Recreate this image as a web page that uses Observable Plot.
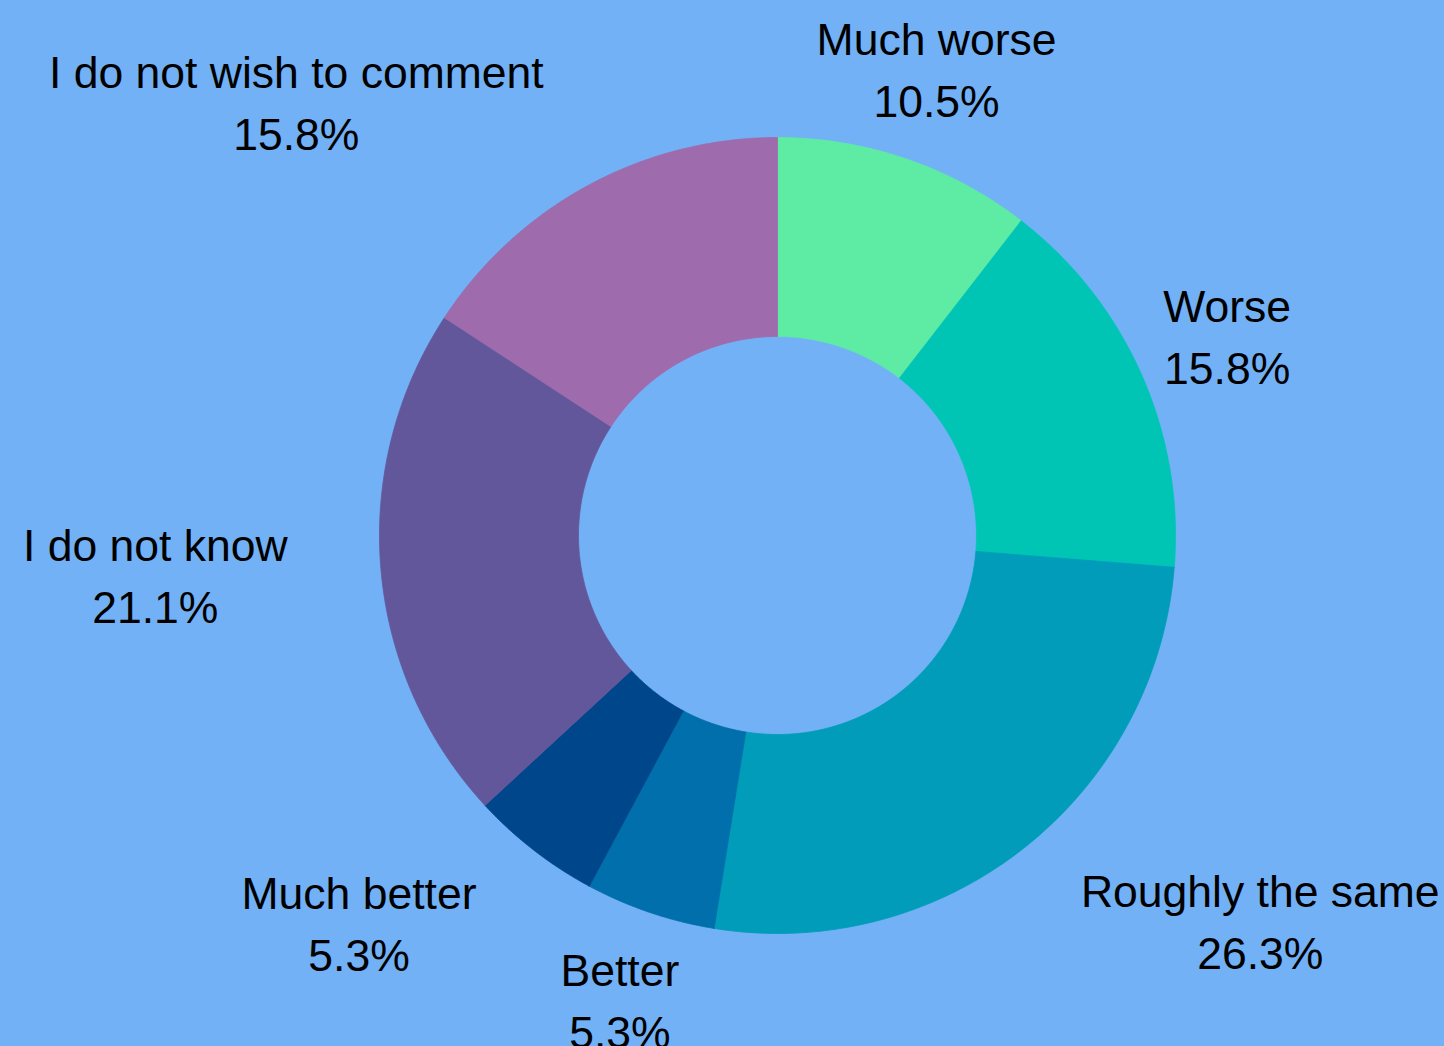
<!DOCTYPE html>
<html>
<head>
<meta charset="utf-8">
<script src="https://cdn.jsdelivr.net/npm/d3@7"></script>
<script src="https://cdn.jsdelivr.net/npm/@observablehq/plot@0.6"></script>
<style>
  html, body { margin: 0; padding: 0; background: #72b1f5; }
  #chart { width: 1444px; height: 1046px; }
</style>
</head>
<body>
<div id="chart"></div>
<script>
// ---- data ----
const categories = ["Much worse", "Worse", "Roughly the same", "Better", "Much better", "I do not know", "I do not wish to comment"];
const percents = [10.5, 15.8, 26.3, 5.3, 5.3, 21.1, 15.8];
const sliceColors = ["#5eeba4", "#00c5b5", "#009cba", "#006fab", "#00468a", "#63579c", "#9e6bac"];
const percentLabels = ["10.5%", "15.8%", "26.3%", "5.3%", "5.3%", "21.1%", "15.8%"];

// ---- layout ----
const W = 1444, H = 1046;
const CX = 777, CY = 535, RPX = 398;      // centre and outer radius in pixels
const INNER = 0.5;                         // inner radius as a fraction of outer
const LABEL_R = 1.235;                     // label distance as a fraction of outer
const FONT = 44.5, LINE_H = 1.39;

const total = d3.sum(percents);
let acc = 0;
const slices = categories.map((c, i) => {
  const a0 = acc / total * 2 * Math.PI;
  acc += percents[i];
  const a1 = acc / total * 2 * Math.PI;
  return {category: c, a0, a1, i};
});

// polygon outline of each ring segment (angle clockwise from north)
const poly = [];
for (const s of slices) {
  const n = Math.max(8, Math.ceil((s.a1 - s.a0) / (Math.PI / 360)));
  const pts = [];
  for (let k = 0; k <= n; k++) {
    const a = s.a0 + (s.a1 - s.a0) * k / n;
    pts.push([Math.sin(a), Math.cos(a)]);
  }
  for (let k = n; k >= 0; k--) {
    const a = s.a0 + (s.a1 - s.a0) * k / n;
    pts.push([INNER * Math.sin(a), INNER * Math.cos(a)]);
  }
  pts.push(pts[0]);
  for (const [x, y] of pts) poly.push({category: s.category, x, y});
}

// labels: centred on the mid angle unless the text box would overlap the ring,
// in which case the box is pushed outward so its near edge sits on that point
const ctx = document.createElement("canvas").getContext("2d");
ctx.font = `${FONT}px "Liberation Sans", Arial, sans-serif`;
const labels = slices.map(s => {
  const m = (s.a0 + s.a1) / 2;
  let x = LABEL_R * Math.sin(m);
  const y = LABEL_R * Math.cos(m);
  const text = `${s.category}\n${percentLabels[s.i]}`;
  const w = Math.max(ctx.measureText(s.category).width, ctx.measureText(percentLabels[s.i]).width);
  const px = x * RPX, py = -y * RPX;
  const hh = (LINE_H * FONT) / 2 + FONT * 0.5;
  const cxp = Math.max(px - w / 2, Math.min(0, px + w / 2));
  const cyp = Math.max(py - hh, Math.min(0, py + hh));
  if (Math.hypot(cxp, cyp) < RPX) x += (x >= 0 ? 1 : -1) * (w / 2) / RPX;
  return {x, y, text};
});

const chart = Plot.plot({
  width: W,
  height: H,
  margin: 0,
  style: {background: "#72b1f5", overflow: "visible"},
  x: {domain: [-1, 1], range: [CX - RPX, CX + RPX], axis: null},
  y: {domain: [-1, 1], range: [CY + RPX, CY - RPX], axis: null},
  color: {domain: categories, range: sliceColors},
  marks: [
    Plot.line(poly, {x: "x", y: "y", z: "category", fill: "category", stroke: "category", strokeWidth: 0.8, curve: "linear"}),
    Plot.text(labels, {
      x: "x", y: "y", text: "text",
      textAnchor: "middle",
      lineAnchor: "middle",
      lineHeight: LINE_H,
      fontSize: FONT,
      fontFamily: '"Liberation Sans", Arial, sans-serif',
      fill: "#000",
      dy: -4
    })
  ]
});
document.getElementById("chart").appendChild(chart);
</script>
</body>
</html>
